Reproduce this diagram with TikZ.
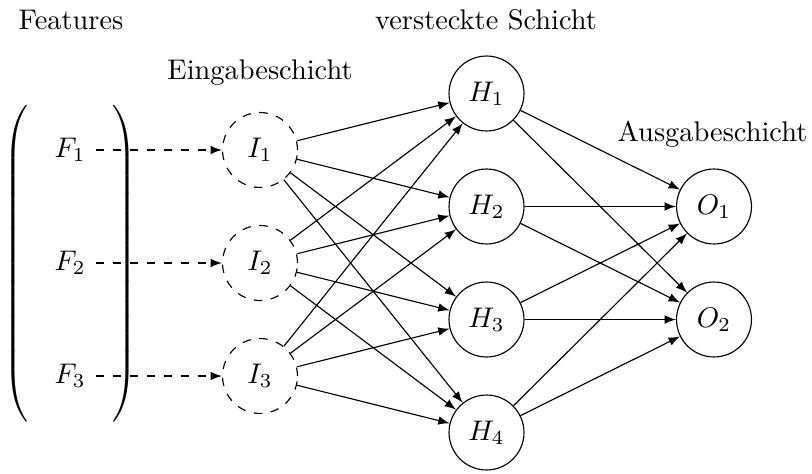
\documentclass[tikz,border=0pt]{standalone}
\usetikzlibrary{arrows}
\begin{document}
\begin{tikzpicture}[x=0.3522pt,y=-0.3522pt,
  neuron/.style={circle,draw,minimum size=26.4pt,inner sep=0pt},
  inneuron/.style={neuron,dashed},
  feature/.style={inner sep=3.33pt},
  conn/.style={-latex},
  feed/.style={-latex,dashed},
  layerlabel/.style={inner sep=0pt}]
\useasboundingbox (0,0) rectangle (812,473);

% bracket around the feature vector
\node[inner sep=0pt] (bracket) at (70.5,264)
  {\scalebox{1}[1.032]{$\delimiterfactor=1000\delimitershortfall=0pt
   \left(\vcenter{\hbox{\vrule height 108pt width 0pt\hskip 29.5pt}}\right)$}};

% features
\node[feature] (F1) at (70,150) {$F_1$};
\node[feature] (F2) at (70,263) {$F_2$};
\node[feature] (F3) at (70,376) {$F_3$};

% input layer
\node[inneuron] (I1) at (260,150) {$I_1$};
\node[inneuron] (I2) at (260,263) {$I_2$};
\node[inneuron] (I3) at (260,376) {$I_3$};

% hidden layer
\node[neuron] (H1) at (486.5,93.5) {$H_1$};
\node[neuron] (H2) at (486.5,206.5) {$H_2$};
\node[neuron] (H3) at (486.5,319.5) {$H_3$};
\node[neuron] (H4) at (486.5,432.5) {$H_4$};

% output layer
\node[neuron] (O1) at (714,206.5) {$O_1$};
\node[neuron] (O2) at (714,319.5) {$O_2$};

% layer labels
\node[layerlabel] (lf) at (71,20) {Features};
\node[layerlabel] (lh) at (486,20) {versteckte Schicht};
\node[layerlabel] (li) at (260,73) {Eingabeschicht};
\node[layerlabel] (lo) at (712.5,134) {Ausgabeschicht};

% connections
\foreach \i in {1,2,3}
  \draw[feed] (F\i) -- (I\i);
\foreach \i in {1,2,3}
  \foreach \h in {1,2,3,4}
    \draw[conn] (I\i) -- (H\h);
\foreach \h in {1,2,3,4}
  \foreach \o in {1,2}
    \draw[conn] (H\h) -- (O\o);
\end{tikzpicture}
\end{document}
